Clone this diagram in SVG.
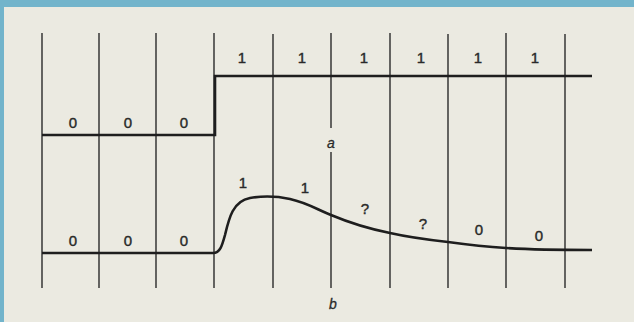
<svg xmlns="http://www.w3.org/2000/svg" width="634" height="322" viewBox="0 0 634 322">
<style>
.grid{stroke:#2a2a2a;stroke-width:1.4;fill:none}
.sig{stroke:#1e1e1e;stroke-width:2.6;fill:none;stroke-linejoin:miter}
.lbl{font-family:"Liberation Sans Narrow","Liberation Sans",Arial,sans-serif;font-size:15px;fill:#2a2a2a;stroke:#2a2a2a;stroke-width:0.4;text-anchor:middle}
.it{font-family:"Liberation Sans Narrow","Liberation Sans",Arial,sans-serif;font-size:14px;font-style:italic;fill:#2a2a2a;stroke:#2a2a2a;stroke-width:0.3;text-anchor:middle}
</style>
<rect x="0" y="0" width="634" height="322" fill="#ebeae1"/>
<rect x="0" y="0" width="634" height="7" fill="#72b4cb"/>
<rect x="0" y="0" width="4" height="322" fill="#72b4cb"/>
<g id="grid">
<line class="grid" x1="42" y1="33" x2="42" y2="288"/>
<line class="grid" x1="99" y1="33" x2="99" y2="288"/>
<line class="grid" x1="156" y1="33" x2="156" y2="288"/>
<line class="grid" x1="214" y1="33" x2="214" y2="288"/>
<line class="grid" x1="273" y1="34" x2="273" y2="288"/>
<line class="grid" x1="331" y1="33" x2="331" y2="128"/>
<line class="grid" x1="331" y1="152" x2="331" y2="288"/>
<line class="grid" x1="390" y1="33" x2="390" y2="288"/>
<line class="grid" x1="448" y1="34" x2="448" y2="288"/>
<line class="grid" x1="506" y1="33" x2="506" y2="288"/>
<line class="grid" x1="565" y1="34" x2="565" y2="288"/>
</g>
<g id="signal-a">
<polyline class="sig" points="42,135 215,135 215,76 592,76"/>
<text class="lbl" x="73" y="128">0</text>
<text class="lbl" x="128" y="128">0</text>
<text class="lbl" x="184" y="128">0</text>
<text class="lbl" x="242" y="63">1</text>
<text class="lbl" x="302" y="63">1</text>
<text class="lbl" x="364" y="63">1</text>
<text class="lbl" x="421" y="63">1</text>
<text class="lbl" x="478" y="63">1</text>
<text class="lbl" x="535" y="63">1</text>
<text class="it" x="331" y="148">a</text>
</g>
<g id="signal-b">
<path class="sig" d="M42,253 L213,253 C220,253 222,246 225,235 C229,218 233,201 250,198 C262,196 276,196 290,199 C308,203 318,210 331,215 C350,223 370,229 390,233 C412,238 430,240 448,242 C470,245 490,247 506,248 C530,249.5 555,250 592,250"/>
<text class="lbl" x="73" y="246">0</text>
<text class="lbl" x="128" y="246">0</text>
<text class="lbl" x="184" y="246">0</text>
<text class="lbl" x="243" y="188">1</text>
<text class="lbl" x="305" y="193">1</text>
<text class="lbl" x="365" y="214">?</text>
<text class="lbl" x="423" y="229">?</text>
<text class="lbl" x="479" y="235">0</text>
<text class="lbl" x="539" y="241">0</text>
<text class="it" x="333" y="309">b</text>
</g>
</svg>
